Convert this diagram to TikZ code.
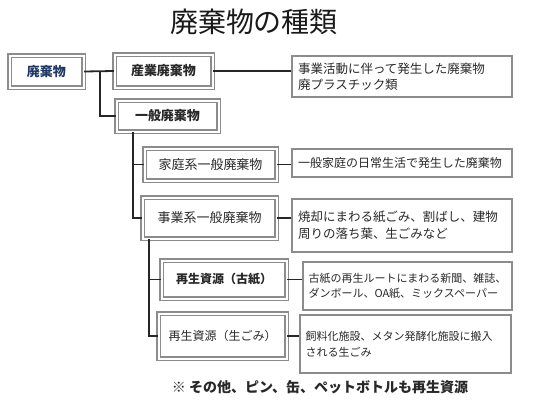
\documentclass[tikz,border=0pt]{standalone}
\usepackage{fontspec}
\setmainfont{Noto Sans CJK JP}
\usepackage{xcolor}
\definecolor{wnavy}{RGB}{31,56,100}
\definecolor{wgray}{RGB}{140,140,140}
\definecolor{wtext}{RGB}{40,40,40}
\usetikzlibrary{positioning,calc}

\begin{document}
\begin{tikzpicture}[x=1pt,y=-1pt,
  labelbox/.style={draw=wgray,double=white,double distance=2pt,line width=1.1pt,text=wtext,align=center,inner sep=0pt},
  descbox/.style={draw=wgray,line width=1.2pt,text=wtext,align=left,inner sep=0pt,text width=#1},
  link/.style={line width=1.8pt,draw=black!85}]
  \useasboundingbox (0,0) rectangle (550,405);
  % title
  \node[font=\fontsize{28}{32}\selectfont,text=black!90] (title) at (254,22) {廃棄物の種類};
  % first level
  \node[labelbox,minimum width=74pt,minimum height=32pt,text=wnavy,font=\fontsize{13}{15}\selectfont\bfseries] (waste) at (46.5,71.5) {廃棄物};
  \node[labelbox,minimum width=98pt,minimum height=33pt,font=\fontsize{13}{15}\selectfont\bfseries] (sangyo) at (163.5,71) {産業廃棄物};
  \node[labelbox,minimum width=102pt,minimum height=31pt,font=\fontsize{13}{15}\selectfont\bfseries] (ippan) at (167.5,116) {一般廃棄物};
  \node[descbox=208pt,minimum width=220pt,minimum height=41pt,font=\fontsize{12.5}{16}\selectfont] (desc1) at (402,76.5) {事業活動に伴って発生した廃棄物\\廃プラスチック類};
  \draw[link] (waste.east) -- (sangyo.west);
  \coordinate (j1) at (100,71);
  \draw[link] (j1) |- (ippan.west);
  \draw[link] (sangyo.east) -- (sangyo.east -| desc1.west);
  % general waste
  \node[labelbox,minimum width=132pt,minimum height=32pt,font=\fontsize{13}{15}\selectfont] (katei) at (210.5,164.5) {家庭系一般廃棄物};
  \node[descbox=208pt,minimum width=220pt,minimum height=28pt,font=\fontsize{12}{15}\selectfont] (desc2) at (402,163) {一般家庭の日常生活で発生した廃棄物};
  \node[labelbox,minimum width=134pt,minimum height=41pt,font=\fontsize{13}{15}\selectfont] (jigyo) at (209.5,218) {事業系一般廃棄物};
  \node[descbox=208pt,minimum width=220pt,minimum height=53pt,font=\fontsize{12.5}{17}\selectfont] (desc3) at (402,225.5) {焼却にまわる紙ごみ、割ばし、建物\\周りの落ち葉、生ごみなど};
  \coordinate (j2) at ([xshift=17pt]ippan.south west);
  \draw[link] (j2) |- (katei.west);
  \draw[link] (j2) |- (jigyo.west);
  \draw[link] (katei.east) -- (katei.east -| desc2.west);
  \draw[link] (jigyo.east) -- (jigyo.east -| desc3.west);
  % recycled resources
  \node[labelbox,minimum width=125pt,minimum height=38pt,font=\fontsize{12}{15}\selectfont\bfseries] (koshi) at (224,279.5) {再生資源（古紙）};
  \node[descbox=198pt,minimum width=209pt,minimum height=48pt,font=\fontsize{11}{15}\selectfont] (desc4) at (407.5,286) {古紙の再生ルートにまわる新聞、雑誌、\\ダンボール、OA紙、ミックスペーパー};
  \node[labelbox,minimum width=128pt,minimum height=45pt,font=\fontsize{12}{15}\selectfont] (nama) at (222.5,336) {再生資源（生ごみ）};
  \node[descbox=200pt,minimum width=211pt,minimum height=58pt,font=\fontsize{11}{16}\selectfont] (desc5) at (405.5,344) {飼料化施設、メタン発酵化施設に搬入\\される生ごみ};
  \coordinate (j3) at ([xshift=7pt]jigyo.south west);
  \draw[link] (j3) |- (koshi.west);
  \draw[link] (j3) |- (nama.west);
  \draw[link] (koshi.east) -- (koshi.east -| desc4.west);
  \draw[link] (nama.east) -- (nama.east -| desc5.west);
  % footnote
  \node[font=\fontsize{14}{16}\selectfont\bfseries,text=wtext] (note) at (320,387) {※ その他、ピン、缶、ペットボトルも再生資源};
\end{tikzpicture}
\end{document}
